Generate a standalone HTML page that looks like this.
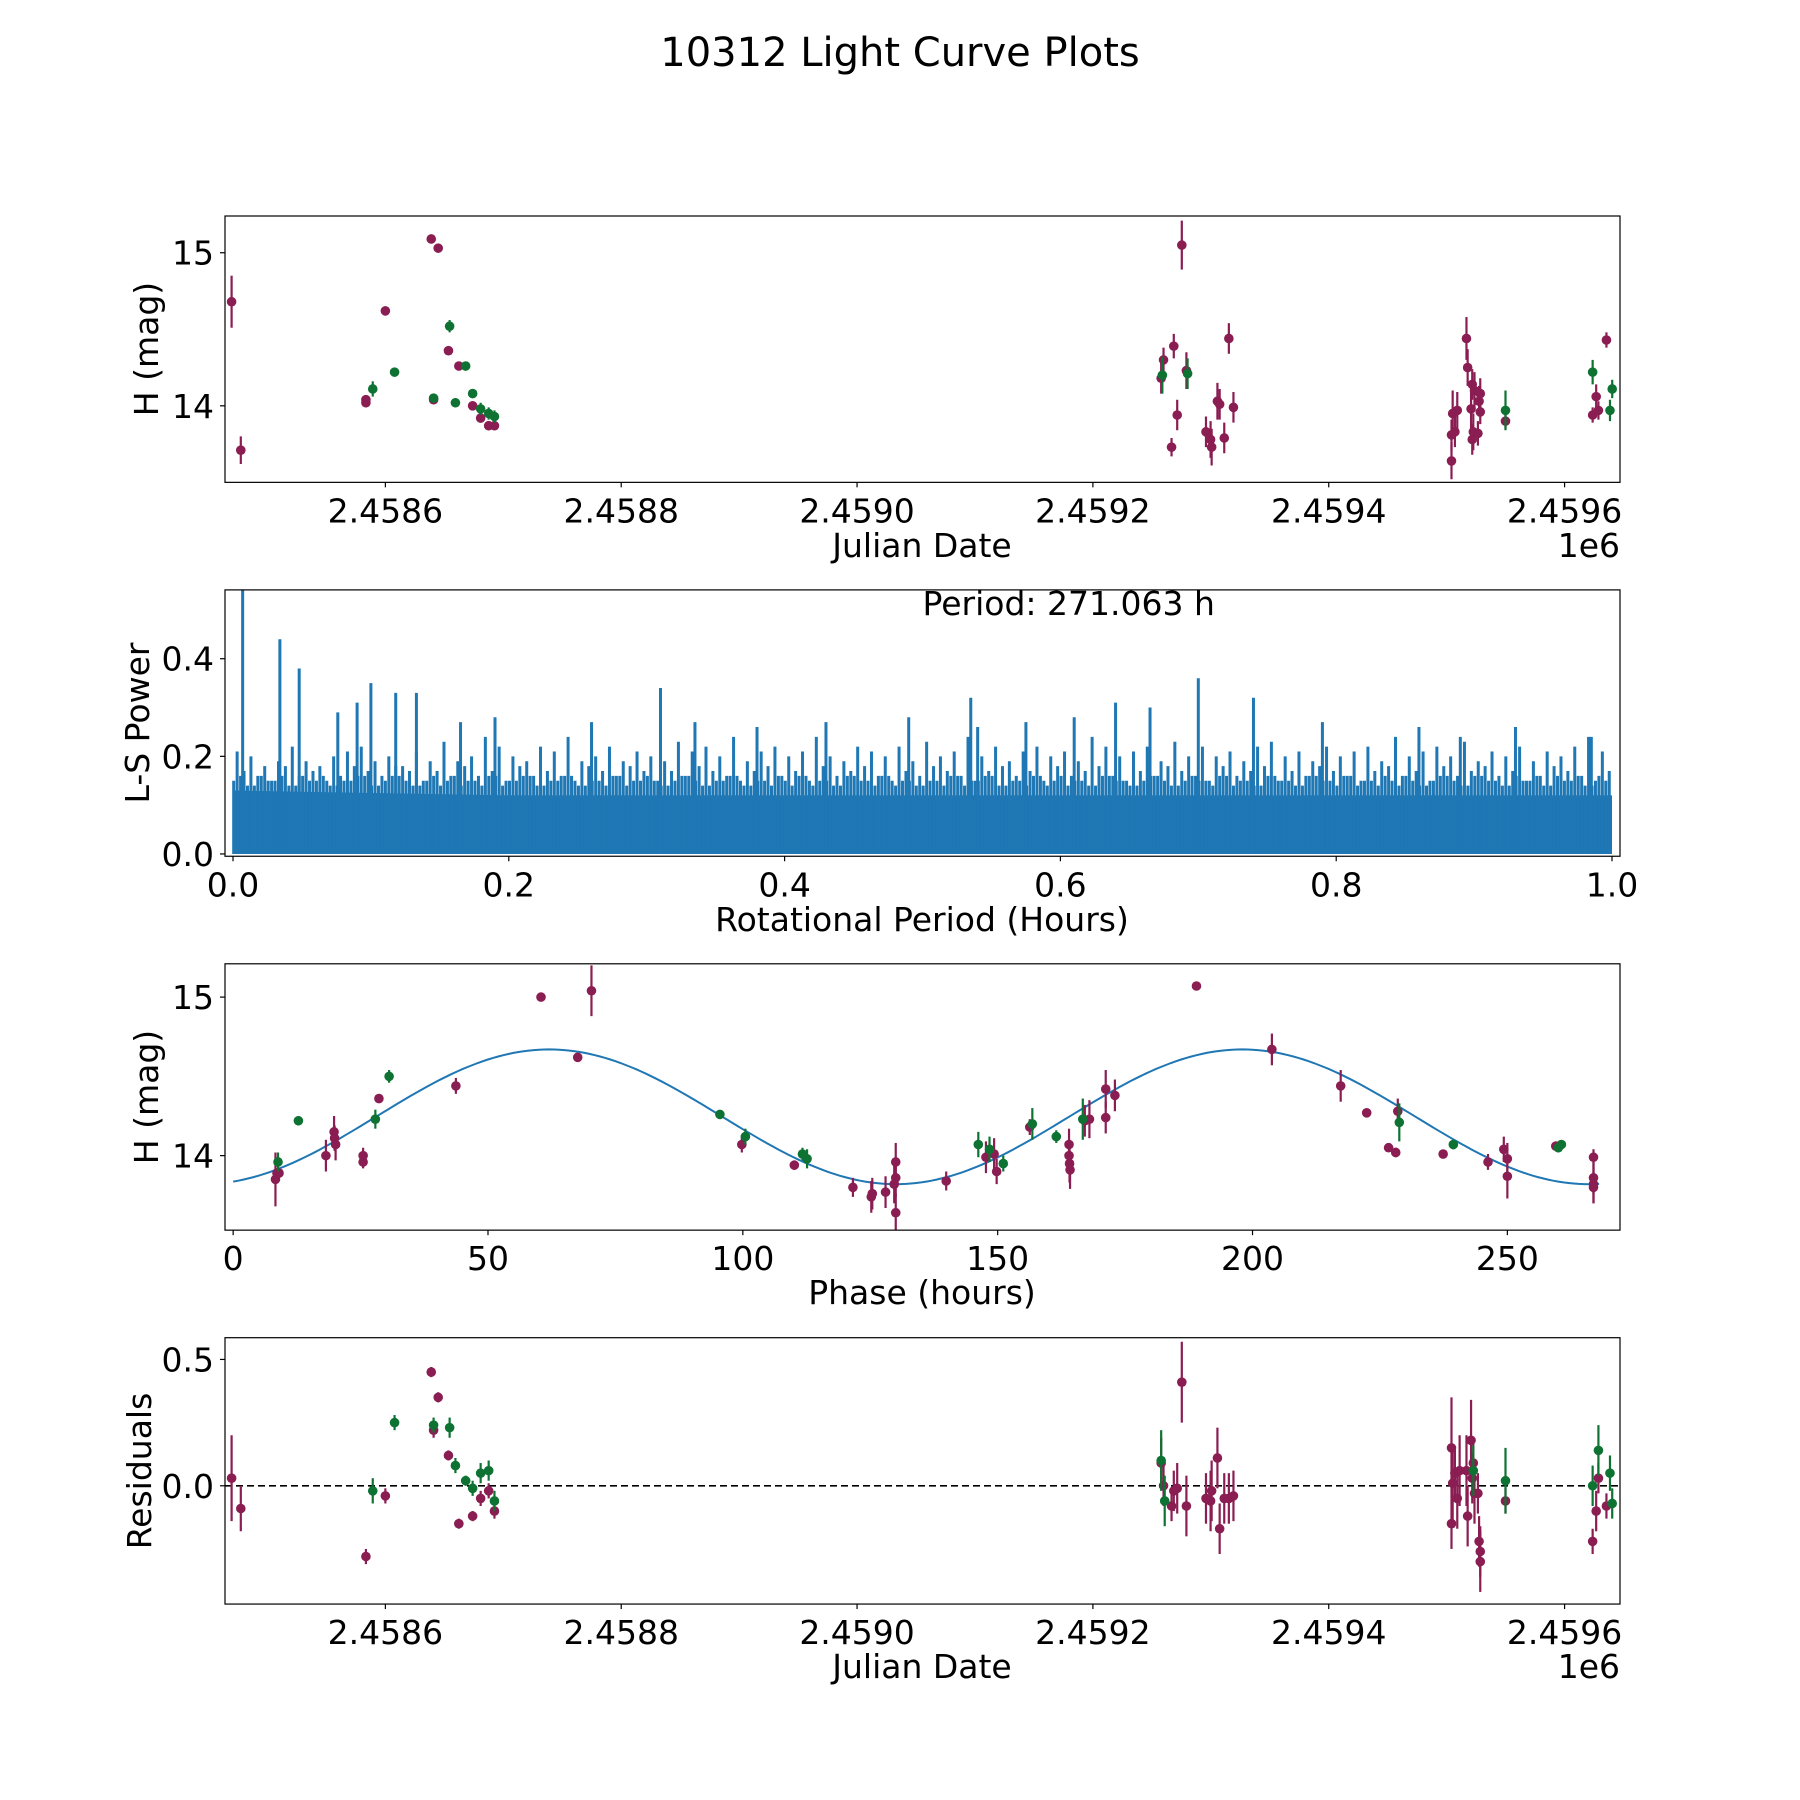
<!DOCTYPE html>
<html><head><meta charset="utf-8"><style>
html,body{margin:0;padding:0;background:#fff}
svg{display:block}
text{font-family:"DejaVu Sans","Liberation Sans",sans-serif;fill:#000}
</style></head><body>
<svg id="fig" width="1800" height="1800" viewBox="0 0 1800 1800" xmlns="http://www.w3.org/2000/svg">
<rect width="1800" height="1800" fill="#fff"/>
<text x="900" y="66" text-anchor="middle" font-size="40">10312 Light Curve Plots</text>
</svg>
<script>
// ---------- data ----------
const dateTickDays = [0,200,400,600,800,1000];
const dateTickLabels = ["2.4586","2.4588","2.4590","2.4592","2.4594","2.4596"];
const magTicks = [14,15];
const magTickLabels = ["14","15"];
const lsTicksX = [0,0.2,0.4,0.6,0.8,1.0];
const lsTickLabelsX = ["0.0","0.2","0.4","0.6","0.8","1.0"];
const lsTicksY = [0,0.2,0.4];
const lsTickLabelsY = ["0.0","0.2","0.4"];
const phaseTicks = [0,50,100,150,200,250];
const phaseTickLabels = ["0","50","100","150","200","250"];
const resTicks = [0,0.5];
const resTickLabels = ["0.0","0.5"];

// Panel 1: days since 2458600
const purpleDay = [-130.4,-122.6,-16.5,-16.5,0,38.9,44.8,40.9,53.5,62.3,74,80.8,87.6,92.5,657.9,659.9,666.7,668.6,671.5,675.4,679.3,695.9,699.8,700.7,705.6,707.5,711.4,715.3,719.2,904.1,904.1,905.1,907,909,916.8,917.8,920.7,921.7,921.7,922.6,923.6,926.5,927.5,928.5,928.5,949.9,1023.8,1026.8,1028.7,1035.5];
const purpleMag = [14.68,13.71,14.02,14.04,14.62,15.09,15.03,14.04,14.36,14.26,14.0,13.92,13.87,13.87,14.18,14.30,13.73,14.39,13.94,15.05,14.23,13.83,13.78,13.73,14.03,14.01,13.79,14.44,13.99,13.64,13.81,13.95,13.83,13.97,14.44,14.25,13.98,14.14,13.78,13.83,14.10,13.82,14.03,14.08,13.96,13.90,13.94,14.06,13.97,14.43];
const purpleErr = [0.17,0.09,0.03,0.03,0.03,0.02,0.02,0.03,0.02,0.02,0.02,0.03,0.03,0.03,0.1,0.08,0.06,0.08,0.1,0.16,0.12,0.1,0.12,0.12,0.12,0.1,0.1,0.1,0.1,0.12,0.1,0.15,0.1,0.12,0.14,0.12,0.14,0.1,0.1,0.12,0.12,0.08,0.1,0.1,0.08,0.05,0.05,0.08,0.06,0.05];
const greenDay = [-10.7,7.8,40.9,54.5,59.4,68.1,74,80.8,87.6,92.5,658.9,680.3,949.9,1023.8,1040.4,1038.5];
const greenMag = [14.11,14.22,14.05,14.52,14.02,14.26,14.08,13.98,13.95,13.93,14.20,14.21,13.97,14.22,14.11,13.97];
const greenErr = [0.05,0.03,0.03,0.04,0.03,0.02,0.03,0.04,0.04,0.04,0.12,0.1,0.13,0.08,0.06,0.07];

// Panel 2: periodogram
const lsPeakX = [0.007,0.034,0.048,0.076,0.09,0.1,0.118,0.133,0.165,0.19,0.26,0.31,0.335,0.38,0.43,0.49,0.535,0.54,0.575,0.61,0.64,0.665,0.70,0.74,0.79,0.86,0.89,0.93,0.985];
const lsPeakY = [0.6,0.44,0.38,0.29,0.31,0.35,0.33,0.33,0.27,0.28,0.27,0.34,0.27,0.26,0.27,0.28,0.32,0.26,0.27,0.28,0.31,0.30,0.36,0.32,0.27,0.26,0.24,0.26,0.24];
const lsSpikesA = [0.21,0.20,0.18,0.19,0.22,0.19,0.18,0.20,0.21,0.22,
0.19,0.20,0.18,0.21,0.19,0.23,0.19,0.20,0.24,0.22,
0.20,0.19,0.22,0.21,0.24,0.19,0.20,0.22,0.19,0.21,
0.20,0.19,0.23,0.21,0.22,0.20,0.24,0.19,0.21,0.22,
0.20,0.21,0.24,0.20,0.19,0.22,0.21,0.20,0.22,0.19,
0.23,0.20,0.21,0.24,0.20,0.22,0.19,0.21,0.22,0.20,
0.21,0.19,0.24,0.22,0.20,0.21,0.22,0.19,0.23,0.20,
0.22,0.20,0.21,0.19,0.22,0.23,0.20,0.21,0.19,0.22,
0.20,0.21,0.22,0.19,0.24,0.20,0.21,0.22,0.20,0.23,
0.19,0.21,0.20,0.22,0.19,0.21,0.20,0.22,0.24,0.21];
const lsSpikesB = [0.17,0.16,0.15,0.18,0.16,0.17,0.15,0.16,0.18,0.17,
0.16,0.18,0.17,0.15,0.17,0.16,0.18,0.16,0.17,0.15,
0.18,0.16,0.17,0.16,0.15,0.18,0.17,0.16,0.18,0.17,
0.15,0.17,0.16,0.18,0.17,0.16,0.15,0.17,0.18,0.16,
0.17,0.15,0.18,0.16,0.17,0.18,0.16,0.15,0.17,0.16,
0.18,0.17,0.16,0.15,0.17,0.18,0.16,0.17,0.15,0.18,
0.16,0.17,0.18,0.16,0.15,0.17,0.16,0.18,0.17,0.16,
0.15,0.18,0.16,0.17,0.18,0.15,0.17,0.16,0.18,0.17,
0.16,0.15,0.17,0.18,0.16,0.17,0.15,0.18,0.16,0.17,
0.18,0.16,0.17,0.15,0.16,0.18,0.17,0.16,0.15,0.17];
const lsSpikesC = [0.15,0.14,0.16,0.15,0.14,0.16,0.15,0.14,0.15,0.16,
0.14,0.15,0.16,0.14,0.15,0.14,0.16,0.15,0.14,0.16,
0.15,0.16,0.14,0.15,0.16,0.14,0.15,0.14,0.16,0.15,
0.16,0.14,0.15,0.16,0.14,0.15,0.16,0.14,0.15,0.14,
0.15,0.16,0.14,0.15,0.14,0.16,0.15,0.16,0.14,0.15,
0.14,0.15,0.16,0.14,0.15,0.16,0.14,0.15,0.16,0.14,
0.16,0.15,0.14,0.16,0.15,0.14,0.15,0.16,0.14,0.15,
0.15,0.14,0.16,0.15,0.14,0.16,0.15,0.14,0.16,0.15,
0.14,0.16,0.15,0.14,0.15,0.16,0.14,0.15,0.16,0.14,
0.16,0.15,0.14,0.16,0.15,0.14,0.16,0.15,0.14,0.16];
const lsBandX = [0,0.1,0.2,0.3,0.4,0.5,0.6,0.7,0.8,0.9,1.0];
const lsBandY = [0.13,0.125,0.12,0.12,0.12,0.12,0.12,0.12,0.12,0.12,0.12];

// Panel 3: phase-folded
const phPurple = [8.3,8.6,9.0,18.2,19.8,19.9,20.1,25.5,25.5,28.6,43.7,60.4,67.6,70.3,99.8,110.1,121.6,125.2,125.4,128,129.7,130,130,130,139.9,147.7,149.3,149.8,156.3,164,164,164.1,164.2,167.1,168,171.2,171.2,173,189,203.8,217.3,222.4,226.7,228.1,228.5,237.4,246.2,249.3,250,250,259.5,266.9,266.9,266.9,266.9];
const phPurpleMag = [13.85,13.89,13.89,14.0,14.15,14.11,14.07,14.0,13.96,14.36,14.44,15.0,14.62,15.04,14.07,13.94,13.80,13.74,13.76,13.77,13.82,13.86,13.64,13.96,13.84,13.99,14.01,13.90,14.18,14.07,14.0,13.95,13.91,14.22,14.23,14.42,14.24,14.38,15.07,14.67,14.44,14.27,14.05,14.02,14.28,14.01,13.96,14.04,13.98,13.87,14.06,13.99,13.86,13.82,13.80];
const phPurpleErr = [0.17,0.03,0.03,0.1,0.1,0.08,0.1,0.05,0.04,0.02,0.05,0.02,0.02,0.16,0.05,0.03,0.06,0.1,0.1,0.1,0.12,0.12,0.12,0.12,0.06,0.1,0.1,0.08,0.05,0.1,0.1,0.12,0.12,0.1,0.12,0.12,0.1,0.1,0.02,0.1,0.1,0.02,0.02,0.03,0.08,0.02,0.05,0.08,0.1,0.14,0.03,0.05,0.1,0.12,0.1];
const phGreen = [8.8,12.8,27.9,30.6,95.5,100.5,111.7,112.6,146.2,148.4,151.1,156.8,161.5,166.7,228.8,239.4,260,260.6];
const phGreenMag = [13.96,14.22,14.23,14.50,14.26,14.12,14.01,13.98,14.07,14.04,13.95,14.20,14.12,14.23,14.21,14.07,14.05,14.07];
const phGreenErr = [0.06,0.03,0.06,0.04,0.02,0.05,0.04,0.06,0.08,0.08,0.05,0.1,0.04,0.13,0.12,0.03,0.03,0.02];
// model sinusoid parameters: [mean, amplitude, period (h), phase offset (h)]
const fitParams = [14.245,0.425,136,28];

// Panel 4: residuals
const resPurpleDay = [-130.4,-122.6,-16.5,0,38.9,40.9,44.8,53.5,62.3,74,80.8,87.6,92.5,657.9,659.9,666.7,668.6,671.5,675.4,679.3,695.9,699.8,700.7,705.6,707.5,711.4,715.3,719.2,904.1,904.1,905.1,907,909,911,916.8,917.8,920.7,921.7,922.6,923.6,926.5,927.5,928.5,928.5,949.9,1023.8,1026.8,1028.7,1035.5];
const resPurple = [0.03,-0.09,-0.28,-0.04,0.45,0.22,0.35,0.12,-0.15,-0.12,-0.05,-0.02,-0.10,0.09,0.0,-0.08,-0.02,-0.01,0.41,-0.08,-0.05,-0.06,-0.02,0.11,-0.17,-0.05,-0.05,-0.04,0.15,-0.15,0.01,0.05,-0.05,0.06,0.06,-0.12,0.18,0.03,0.09,-0.03,-0.03,-0.22,-0.26,-0.30,-0.06,-0.22,-0.10,0.03,-0.08];
const resPurpleErr = [0.17,0.09,0.03,0.03,0.02,0.03,0.02,0.02,0.02,0.02,0.03,0.03,0.03,0.1,0.08,0.06,0.08,0.1,0.16,0.12,0.1,0.12,0.12,0.12,0.1,0.1,0.1,0.1,0.2,0.1,0.15,0.1,0.12,0.14,0.14,0.12,0.16,0.1,0.1,0.12,0.08,0.1,0.1,0.12,0.05,0.05,0.08,0.06,0.05];
const resGreenDay = [-10.7,7.8,40.9,54.5,59.4,68.1,74,80.8,87.6,92.5,657.9,660.9,922.6,949.9,1023.8,1028.7,1038.5,1040.4];
const resGreen = [-0.02,0.25,0.24,0.23,0.08,0.02,-0.01,0.05,0.06,-0.06,0.10,-0.06,0.06,0.02,0.0,0.14,0.05,-0.07];
const resGreenErr = [0.05,0.03,0.03,0.04,0.03,0.02,0.03,0.04,0.04,0.04,0.12,0.1,0.1,0.13,0.08,0.1,0.07,0.06];

// ---------- drawing ----------
const NS = "http://www.w3.org/2000/svg";
const svg = document.getElementById("fig");
const PURPLE = "#8a1d52", GREEN = "#0e7332", BLUE = "#1f77b4";
const FS = 33;
function mk(tag, attrs, parent) {
  const e = document.createElementNS(NS, tag);
  for (const k in attrs) e.setAttribute(k, attrs[k]);
  (parent || svg).appendChild(e);
  return e;
}
function makeAxes(top, xmin, xmax, ymin, ymax) {
  const a = {left:225, w:1395, top:top, h:266.35, xmin, xmax, ymin, ymax};
  a.sx = v => a.left + (v - xmin) / (xmax - xmin) * a.w;
  a.sy = v => a.top + a.h - (v - ymin) / (ymax - ymin) * a.h;
  return a;
}
const ax1 = makeAxes(216, -136, 1047, 13.50, 15.24);
const ax2 = makeAxes(589.9, -0.0058, 1.0058, -0.0047, 0.541);
const ax3 = makeAxes(963.8, -1.6, 272.1, 13.53, 15.21);
const ax4 = makeAxes(1337.7, -136, 1047, -0.468, 0.586);

function clip(a, id) {
  const d = mk("defs", {});
  const cp = mk("clipPath", {id: id}, d);
  mk("rect", {x:a.left, y:a.top, width:a.w, height:a.h}, cp);
  const g = mk("g", {"clip-path": "url(#" + id + ")"});
  return g;
}
function frame(a, name) {
  const r = mk("rect", {x:a.left, y:a.top, width:a.w, height:a.h, fill:"none", stroke:"#000", "stroke-width":1.2});
  
  
}
function xTicks(a, vals, labels, name) {
  const g = mk("g", {});
  
  
  vals.forEach((v, i) => {
    const x = a.sx(v), y = a.top + a.h;
    mk("line", {x1:x, y1:y, x2:x, y2:y + 5, stroke:"#000", "stroke-width":1.2}, g);
    const t = mk("text", {x:x, y:y + 40, "text-anchor":"middle", "font-size":FS}, g);
    t.textContent = labels[i];
    
    
  });
}
function yTicks(a, vals, labels, name) {
  const g = mk("g", {});
  
  
  vals.forEach((v, i) => {
    const y = a.sy(v), x = a.left;
    mk("line", {x1:x - 5, y1:y, x2:x, y2:y, stroke:"#000", "stroke-width":1.2}, g);
    const t = mk("text", {x:x - 11, y:y + 12, "text-anchor":"end", "font-size":FS}, g);
    t.textContent = labels[i];
    
    
  });
}
function label(x, y, txt, name, rot) {
  const t = mk("text", {x:x, y:y, "text-anchor":"middle", "font-size":FS});
  if (rot) t.setAttribute("transform", "rotate(-90 " + x + " " + y + ")");
  t.textContent = txt;
  
  
  return t;
}
function errPoints(a, g, xs, ys, es, color, name) {
  xs.forEach((xv, i) => {
    const x = a.sx(xv), y = a.sy(ys[i]);
    const ln = mk("line", {x1:x, y1:a.sy(ys[i] - es[i]), x2:x, y2:a.sy(ys[i] + es[i]), stroke:color, "stroke-width":2.2}, g);
    
    
    const c = mk("circle", {cx:x, cy:y, r:4.8, fill:color}, g);
    
    
  });
}

// Panel 1
const g1 = clip(ax1, "c1");


errPoints(ax1, g1, purpleDay, purpleMag, purpleErr, PURPLE, 'purple-magnitude');
errPoints(ax1, g1, greenDay, greenMag, greenErr, GREEN, 'green-magnitude');
frame(ax1, 'light-curve');
xTicks(ax1, dateTickDays, dateTickLabels, 'light-curve-x-ticks');
yTicks(ax1, magTicks, magTickLabels, 'light-curve-y-ticks');
label(922, 557, "Julian Date", 'light-curve-x-axis-title');
label(158, 349, "H (mag)", 'light-curve-y-axis-title', true);
const off1 = mk("text", {x:1620, y:557, "text-anchor":"end", "font-size":FS});
off1.textContent = "1e6";



// Panel 2
const g2 = clip(ax2, "c2");


let bandPts = [[ax2.sx(lsBandX[0]), ax2.sy(0)]];
lsBandX.forEach((v, i) => bandPts.push([ax2.sx(v), ax2.sy(lsBandY[i])]));
bandPts.push([ax2.sx(lsBandX[lsBandX.length - 1]), ax2.sy(0)]);
const band = mk("polygon", {points: bandPts.map(p => p.join(",")).join(" "), fill:BLUE}, g2);


function spikes(xs, ys, w, name) {
  xs.forEach((xv, i) => {
    const l = mk("line", {x1:ax2.sx(xv), y1:ax2.sy(0), x2:ax2.sx(xv), y2:ax2.sy(ys[i]), stroke:BLUE, "stroke-width":w}, g2);
    
    
  });
}
spikes(lsSpikesC.map((v, i) => 0.0005 + 0.01 * i), lsSpikesC, 3, 'periodogram-spike');
spikes(lsSpikesC.map((v, i) => 0.0055 + 0.01 * i), lsSpikesC.slice().reverse(), 3, 'periodogram-spike');
spikes(lsSpikesB.map((v, i) => 0.008 + 0.01 * i), lsSpikesB, 3, 'periodogram-spike');
spikes(lsSpikesA.map((v, i) => 0.003 + 0.01 * i), lsSpikesA, 3, 'periodogram-spike');
spikes(lsPeakX, lsPeakY, 3, 'periodogram-peak');
const per = mk("text", {x:ax2.sx(0.5), y:ax2.sy(0.49), "font-size":FS});
per.textContent = "Period: 271.063 h";


frame(ax2, 'periodogram');
xTicks(ax2, lsTicksX, lsTickLabelsX, 'periodogram-x-ticks');
yTicks(ax2, lsTicksY, lsTickLabelsY, 'periodogram-y-ticks');
label(922, 931, "Rotational Period (Hours)", 'periodogram-x-axis-title');
label(149, 723, "L-S Power", 'periodogram-y-axis-title', true);

// Panel 3
const g3 = clip(ax3, "c3");


let fitPts = [];
for (let p = 0; p <= 268; p += 1) {
  const m = fitParams[0] + fitParams[1] * Math.sin(2 * Math.PI * (p - fitParams[3]) / fitParams[2]);
  fitPts.push(ax3.sx(p).toFixed(1) + "," + ax3.sy(m).toFixed(1));
}
const fit = mk("polyline", {points: fitPts.join(" "), fill:"none", stroke:BLUE, "stroke-width":2}, g3);


errPoints(ax3, g3, phPurple, phPurpleMag, phPurpleErr, PURPLE, 'purple-phase');
errPoints(ax3, g3, phGreen, phGreenMag, phGreenErr, GREEN, 'green-phase');
frame(ax3, 'phase');
xTicks(ax3, phaseTicks, phaseTickLabels, 'phase-x-ticks');
yTicks(ax3, magTicks, magTickLabels, 'phase-y-ticks');
label(922, 1304, "Phase (hours)", 'phase-x-axis-title');
label(158, 1097, "H (mag)", 'phase-y-axis-title', true);

// Panel 4
const g4 = clip(ax4, "c4");


const zl = mk("line", {x1:ax4.left, x2:ax4.left + ax4.w, y1:ax4.sy(0), y2:ax4.sy(0), stroke:"#000", "stroke-width":1.6, "stroke-dasharray":"7 4"}, g4);


errPoints(ax4, g4, resPurpleDay, resPurple, resPurpleErr, PURPLE, 'purple-residual');
errPoints(ax4, g4, resGreenDay, resGreen, resGreenErr, GREEN, 'green-residual');
frame(ax4, 'residuals');
xTicks(ax4, dateTickDays, dateTickLabels, 'residuals-x-ticks');
yTicks(ax4, resTicks, resTickLabels, 'residuals-y-ticks');
label(922, 1678, "Julian Date", 'residuals-x-axis-title');
label(151, 1471, "Residuals", 'residuals-y-axis-title', true);
const off4 = mk("text", {x:1620, y:1678, "text-anchor":"end", "font-size":FS});
off4.textContent = "1e6";


</script>
</body></html>
